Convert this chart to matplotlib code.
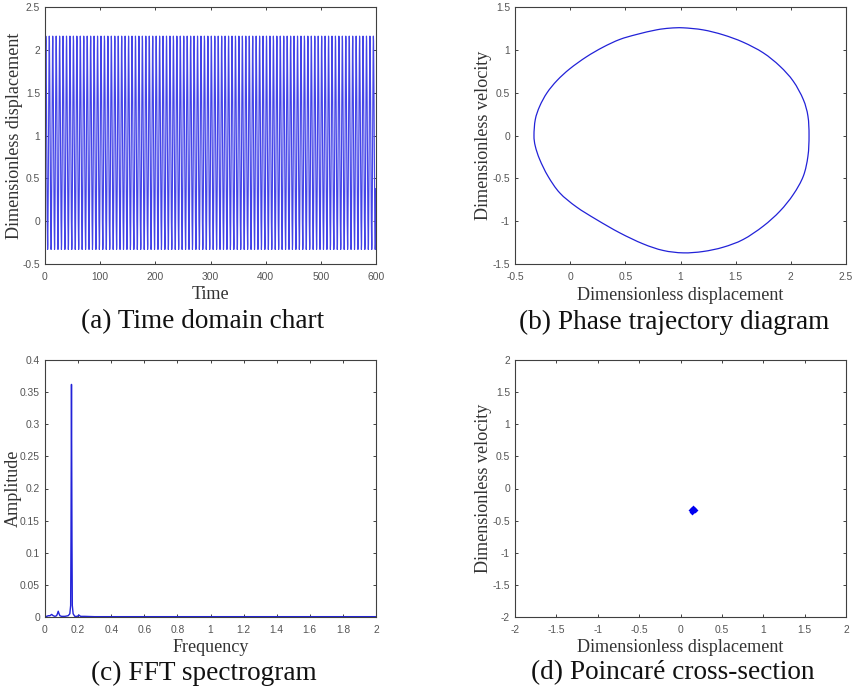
import numpy as np
import matplotlib
matplotlib.use('Agg')
import matplotlib.pyplot as plt
from matplotlib.path import Path
from matplotlib.patches import PathPatch

W, H = 858, 689

# one oscillation of the time response, repeated over the record
cycle_disp = [0.80, 1.25, 1.68, 2.00, 2.16, 2.10, 1.85, 1.50, 1.10, 0.70, 0.32, 0.0, -0.22, -0.33, -0.27, 0.0, 0.38]
cycle_step = 6.25 / 17
record_end = 600

# phase trajectory, read round the closed curve (last point left off, the path closes itself)
phase_x = [-0.328, -0.316, -0.276, -0.21, -0.119, -0.004, 0.147, 0.298, 0.449, 0.601, 0.782, 0.903, 1.024,
           1.205, 1.387, 1.568, 1.75, 1.901, 2.022, 2.113, 2.155, 2.165,
           2.155, 2.113, 2.022, 1.901, 1.75, 1.568, 1.387, 1.205, 1.024,
           0.843, 0.661, 0.449, 0.238, 0.056, -0.095, -0.201, -0.276, -0.316]
phase_y = [0.0, 0.187, 0.342, 0.498, 0.642, 0.778, 0.918, 1.031, 1.121, 1.179, 1.233, 1.253, 1.257,
           1.233, 1.175, 1.089, 0.965, 0.809, 0.634, 0.42, 0.226, 0.0,
           -0.241, -0.475, -0.689, -0.883, -1.058, -1.214, -1.304, -1.354, -1.37,
           -1.342, -1.265, -1.136, -0.981, -0.833, -0.669, -0.475, -0.28, -0.125]

# spectrum
freq = [0, 0.01, 0.02, 0.03, 0.04, 0.05, 0.06, 0.07, 0.075, 0.08, 0.085, 0.09, 0.10, 0.12, 0.14, 0.15, 0.155,
        0.157, 0.16, 0.163, 0.165, 0.17, 0.18, 0.195, 0.205, 0.215, 0.24, 0.3, 0.5, 1.0, 1.5, 2.0]
amp = [0.001, 0.001, 0.002, 0.002, 0.004, 0.002, 0.001, 0.002, 0.005, 0.009, 0.005, 0.002, 0.001, 0.001, 0.002, 0.005, 0.018,
       0.12, 0.362, 0.12, 0.018, 0.005, 0.001, 0.001, 0.003, 0.001, 0.001, 0.0005, 0.0005, 0.0005, 0.0005, 0.0005]

# poincare section
poincare_x = [0.13, 0.15, 0.14, 0.16, 0.17]
poincare_y = [-0.34, -0.31, -0.36, -0.33, -0.33]

captions = ['(a) Time domain chart', '(b) Phase trajectory diagram',
            '(c) FFT spectrogram', '(d) Poincaré cross-section']
blue = '#2222d8'
grey = '#404040'
serif = 'Liberation Serif'
sans = 'Liberation Sans'


def makeAxes(fig, left, right, top, bottom):
	ax = fig.add_axes([left / W, 1 - bottom / H, (right - left) / W, (bottom - top) / H])
	ax.tick_params(direction='in', top=True, right=True, length=2.5, width=0.7, color=grey)
	ax.tick_params(axis='x', labelsize=7.4, labelcolor='#555555', pad=6)
	ax.tick_params(axis='y', labelsize=7.4, labelcolor='#555555', pad=3.6)
	for side in ax.spines.values():
		side.set_linewidth(0.8)
		side.set_color(grey)
	return ax


def finish(ax, xlabel, ylabel, xticks, yticks, xlabel_y, ylabel_x):
	ax.set_xticks(xticks)
	ax.set_yticks(yticks)
	ax.set_xticklabels(['%g' % v for v in xticks], family=sans)
	ax.set_yticklabels(['%g' % v for v in yticks], family=sans)
	ax.set_xlim(xticks[0], xticks[-1])
	ax.set_ylim(yticks[0], yticks[-1])
	ax.set_xlabel(xlabel, family=serif, fontsize=13.1, color='#333333', va='center')
	ax.set_ylabel(ylabel, family=serif, fontsize=13.1, color='#333333', va='center')

	# label places are given in figure pixels, centred on the axes
	box = ax.get_position()
	ax.xaxis.set_label_coords((box.x0 + box.x1) / 2, 1 - xlabel_y / H, transform=fig.transFigure)
	ax.yaxis.set_label_coords(ylabel_x / W, (box.y0 + box.y1) / 2, transform=fig.transFigure)


def closedCurve(xs, ys):
	# bezier path through the read points, so the loop has no corners
	pts = np.column_stack([xs, ys])
	before = np.roll(pts, 1, axis=0)
	after = np.roll(pts, -1, axis=0)
	after2 = np.roll(pts, -2, axis=0)
	verts = [pts[0]]
	codes = [Path.MOVETO]
	for i in range(len(pts)):
		verts += [pts[i] + (after[i] - before[i]) / 6, after[i] - (after2[i] - pts[i]) / 6, after[i]]
		codes += [Path.CURVE4] * 3
	return Path(verts, codes)


fig = plt.figure(figsize=(W / 100, H / 100), dpi=100)

# (a) time response
ax = makeAxes(fig, 45, 376, 7, 264)
n_steps = int(record_end / cycle_step) + 1
t = np.arange(n_steps) * cycle_step
disp = np.resize(cycle_disp, n_steps)
ax.plot(t, disp, color='#4444e8', lw=0.85)
finish(ax, 'Time', 'Dimensionless displacement',
       [0, 100, 200, 300, 400, 500, 600], [-0.5, 0, 0.5, 1, 1.5, 2, 2.5], 294, 15)

# (b) phase trajectory
ax = makeAxes(fig, 515, 846, 7, 264)
ax.add_patch(PathPatch(closedCurve(phase_x, phase_y), fill=False, edgecolor=blue, lw=0.9))
finish(ax, 'Dimensionless displacement', 'Dimensionless velocity',
       [-0.5, 0, 0.5, 1, 1.5, 2, 2.5], [-1.5, -1, -0.5, 0, 0.5, 1, 1.5], 295, 483)

# (c) spectrum
ax = makeAxes(fig, 45, 376, 360, 617)
ax.plot(freq, amp, color=blue, lw=1.0)
finish(ax, 'Frequency', 'Amplitude',
       [0, 0.2, 0.4, 0.6, 0.8, 1, 1.2, 1.4, 1.6, 1.8, 2],
       [0, 0.05, 0.1, 0.15, 0.2, 0.25, 0.3, 0.35, 0.4], 647, 13)

# (d) poincare section
ax = makeAxes(fig, 515, 846, 360, 617)
ax.plot(poincare_x, poincare_y, 'D', color='#0000f0', ms=3.0, mew=0)
finish(ax, 'Dimensionless displacement', 'Dimensionless velocity',
       [-2, -1.5, -1, -0.5, 0, 0.5, 1, 1.5, 2], [-2, -1.5, -1, -0.5, 0, 0.5, 1, 1.5, 2], 647, 483)

# captions under each panel
cap_pos = [(203, 322), (674, 322), (203.5, 673), (673, 673)]
for text, (cx, cy) in zip(captions, cap_pos):
	fig.text(cx / W, 1 - cy / H, text, family=serif, fontsize=19.6, color='#111111',
	         ha='center', va='center')

fig.savefig('out.png', dpi=100)
